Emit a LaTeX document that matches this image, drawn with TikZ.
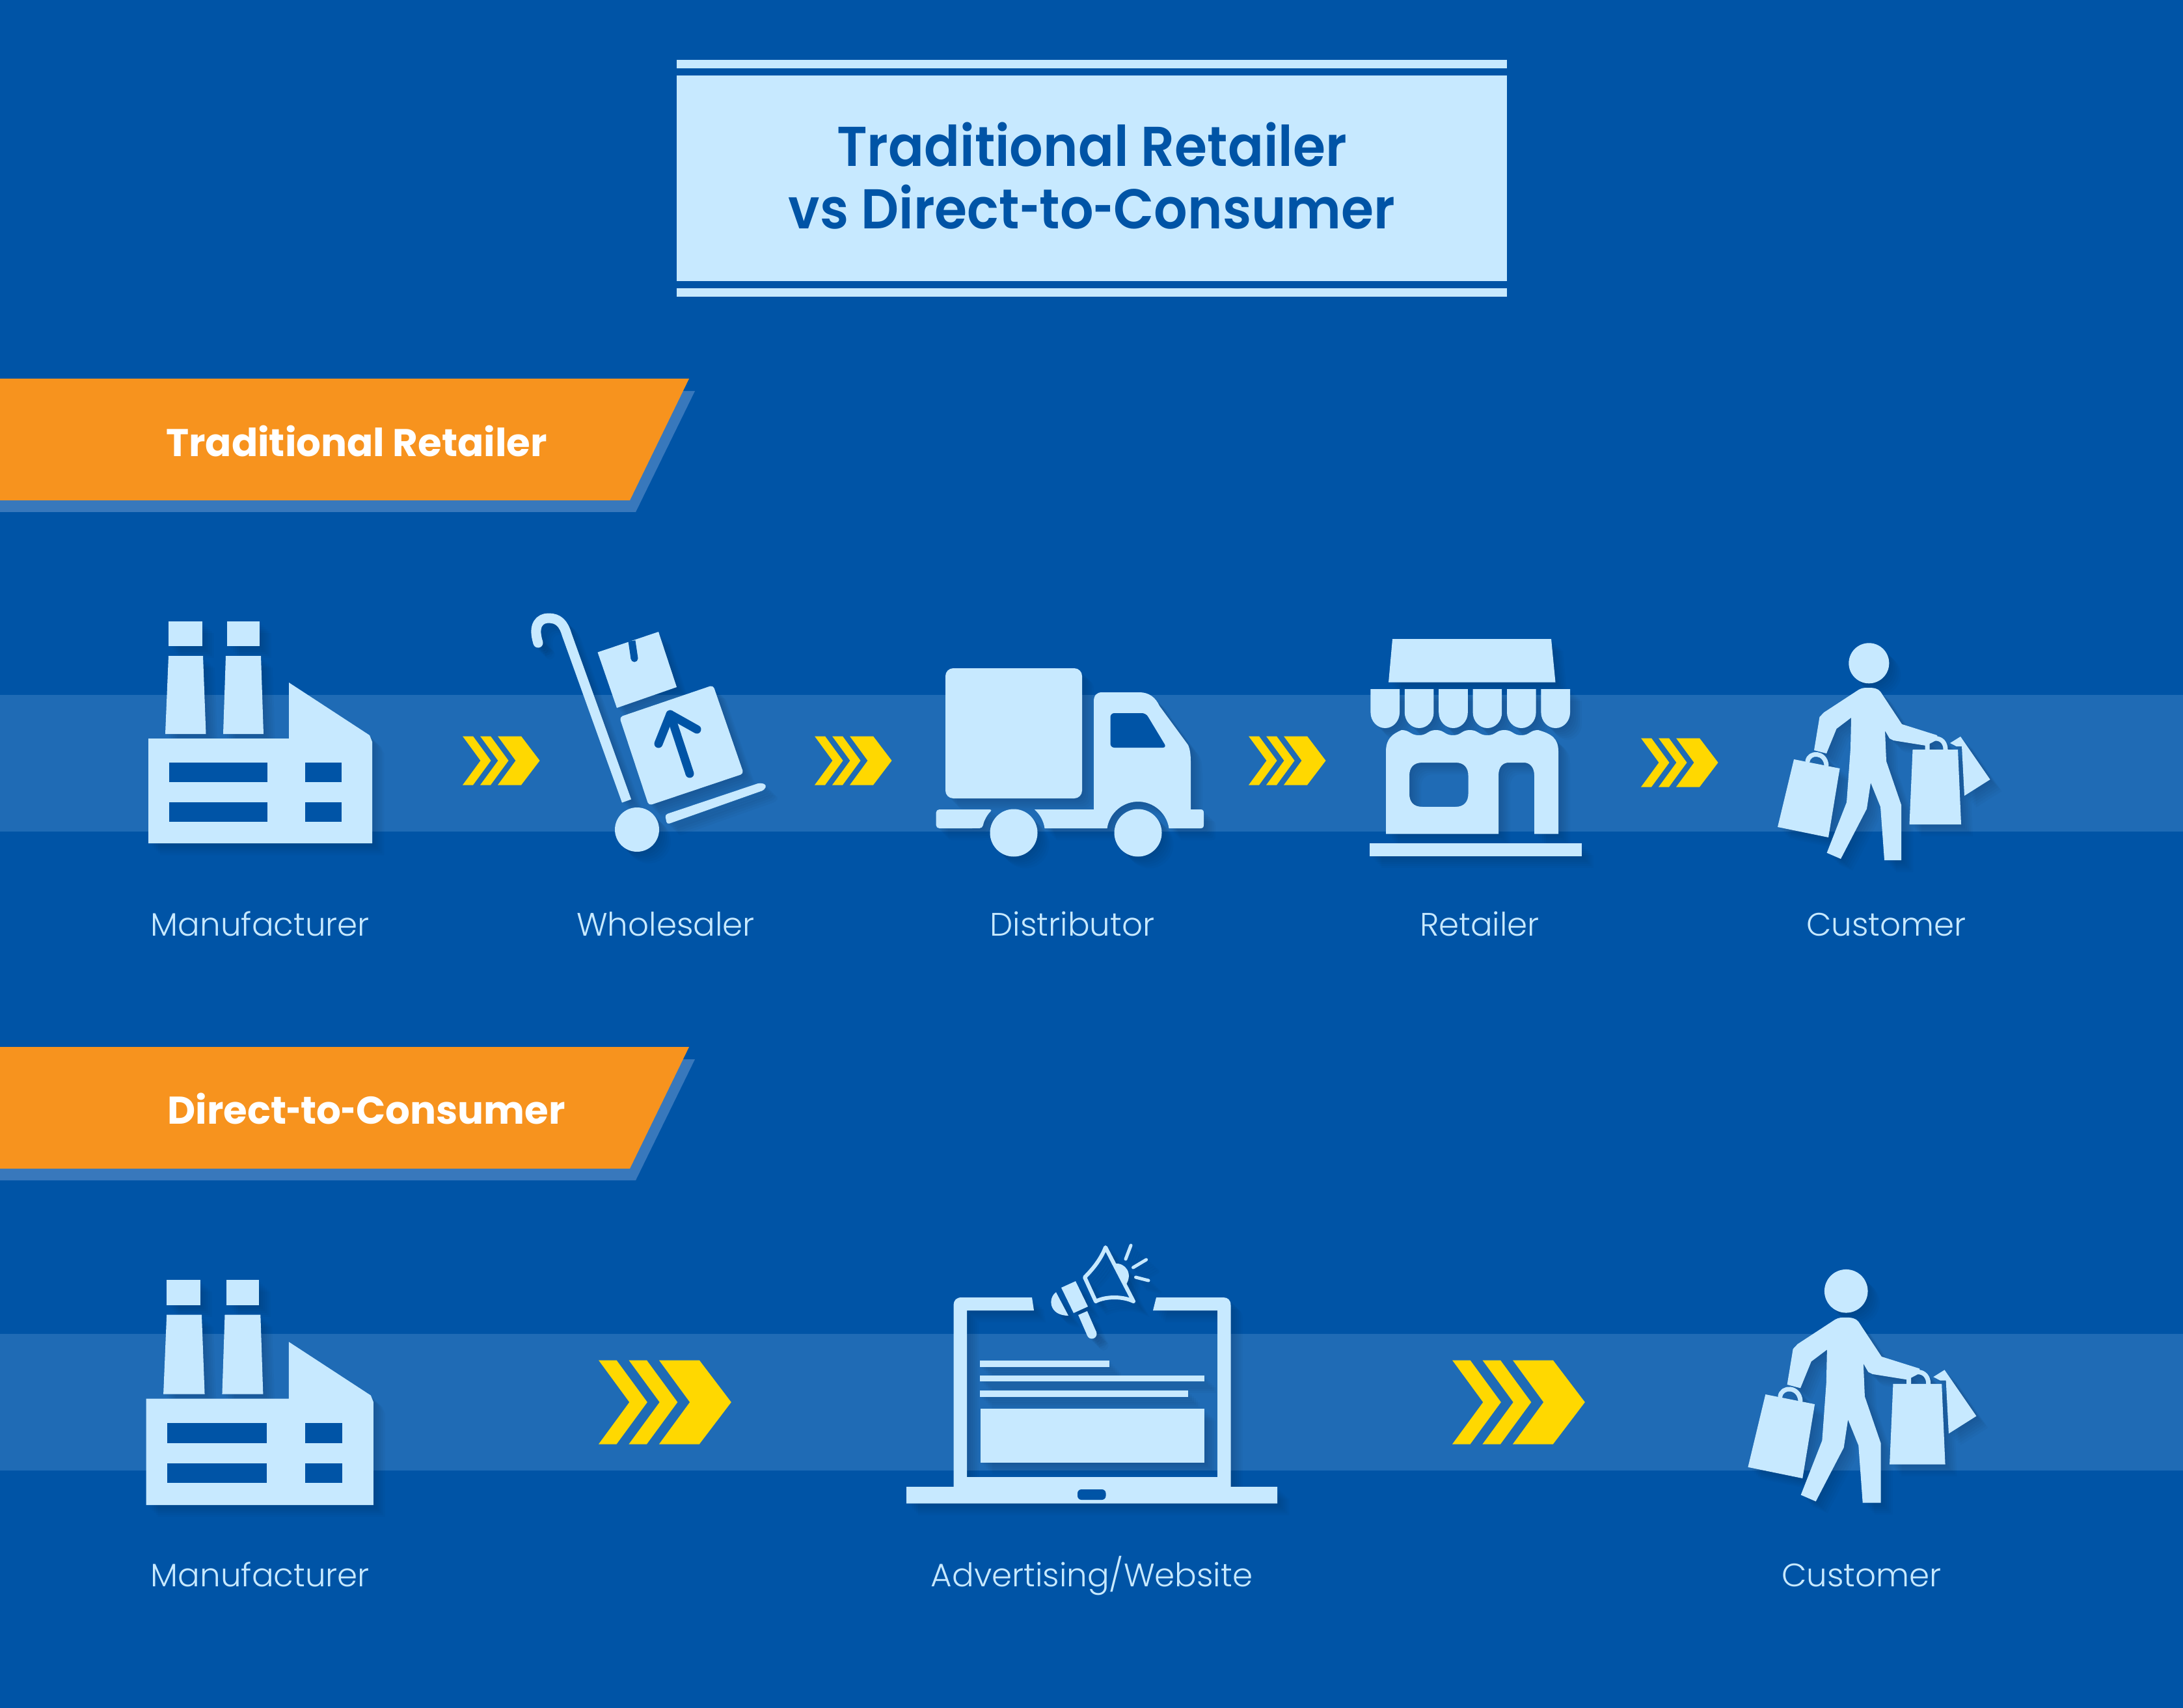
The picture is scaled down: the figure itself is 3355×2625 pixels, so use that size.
\documentclass[tikz,border=0pt]{standalone}
\usepackage{fontspec,graphicx}
\setmainfont{Poppins}
\newfontfamily\lightfont{Poppins Light}
\newfontfamily\titlefont{Poppins SemiBold}[FakeStretch=.94]
\newcommand{\hy}{\scalebox{.65}[1]{-}}
\definecolor{baseblue}{HTML}{0054A6}
\definecolor{bandblue}{HTML}{1F6BB5}
\definecolor{iconlight}{HTML}{C7E9FF}
\definecolor{flagorange}{HTML}{F7931E}
\definecolor{flagshade}{HTML}{3878BC}
\definecolor{chevyellow}{HTML}{FFD800}
\tikzset{
  iconbody/.style={fill=iconlight},
  iconline/.style={draw=iconlight,line cap=round,line join=round},
  iconcut/.style={fill=baseblue},
  iconcutline/.style={draw=baseblue,line cap=round,line join=round},
  pics/factoryicon/.style={code={
    \fill[iconbody] (259,955) rectangle (310.5,993);
    \fill[iconbody] (349,955) rectangle (399,993);
    \fill[iconbody] (259,1008) -- (312,1008) -- (316.5,1128) -- (254,1128) -- cycle;
    \fill[iconbody] (347,1008) -- (401,1008) -- (405,1128) -- (343,1128) -- cycle;
    \fill[iconbody] (228,1135) -- (444,1135) -- (444,1049) -- (568,1130) -- (572,1140) -- (572,1296) -- (228,1296) -- cycle;
    \fill[iconcut] (260,1172) rectangle (411,1202);
    \fill[iconcut] (260,1232.5) rectangle (411,1262.5);
    \fill[iconcut] (469,1172) rectangle (525,1202);
    \fill[iconcut] (469,1232.5) rectangle (525,1262.5);
  }},
  pics/trolleyicon/.style={code={
    \draw[iconline,line width=.15cm,line cap=butt] (827,988) .. controls (818,960) and (830,950) .. (843,950) .. controls (858,950) and (866,958) .. (871,975) -- (963,1231);
    \fill[iconbody] (827,988) circle (7.5);
    \fill[iconbody] (979,1275) circle (34);
    \fill[iconbody,rounded corners=.04cm] (1022,1252) -- (1168,1203) -- (1178,1206) -- (1175,1214) -- (1025,1267) -- cycle;
    \fill[iconbody,rounded corners=.05cm] (952,1102) -- (1096,1053) -- (1143,1189) -- (997,1238) -- cycle;
    \draw[iconcutline,line width=.13cm] (1060,1189) -- (1030,1098);
    \draw[iconcutline,line width=.13cm] (1012,1143) -- (1030,1098) -- (1071,1121);
    \fill[iconbody] (918.5,1002.5) -- (1012,971) -- (1040,1056) -- (948,1088) -- cycle;
    \draw[iconcutline,line width=.11cm,line cap=butt] (971,985) -- (975,1012);
    \fill[iconcut] (975,1012) circle (5.5);
  }},
  pics/truckicon/.style={code={
    \fill[iconbody,rounded corners=.12cm] (1453,1027) rectangle (1663,1227);
    \fill[iconbody] (1590,1244) -- (1681,1244) -- (1681,1078) .. controls (1681,1069) and (1685,1064) .. (1694,1064) -- (1751,1064) .. controls (1766,1064) and (1776,1072) .. (1782,1085) -- (1826,1145) .. controls (1829,1152) and (1830,1160) .. (1830,1172) -- (1830,1244) -- (1845,1244) .. controls (1849,1244) and (1850,1246) .. (1850,1250) -- (1850,1267) .. controls (1850,1271) and (1849,1273) .. (1845,1273) -- (1796.5,1273) arc[start angle=-8.4,end angle=-171.6,radius=48] -- (1605.5,1273) arc[start angle=-8.4,end angle=-48.6,radius=48] -- cycle;
    \fill[iconbody,rounded corners=.05cm] (1438.6,1244) -- (1526,1244) arc[start angle=-131.4,end angle=-171.6,radius=48] -- (1438.6,1273) -- cycle;
    \fill[iconcut,rounded corners=.06cm] (1706.5,1096) -- (1761,1096) -- (1793,1149) -- (1706.5,1149) -- cycle;
    \fill[iconbody] (1558,1280) circle (36.5);
    \fill[iconbody] (1749,1280) circle (36.5);
  }},
  pics/storeicon/.style={code={
    \fill[iconbody] (2140,982) -- (2384,982) -- (2390.5,1048.7) -- (2134,1048.7) -- cycle;
    \foreach \i in {0,...,5} {
      \fill[iconbody] ({2106.4+\i*52.4},1059) -- ++(0,36) arc[x radius=22.3,y radius=24,start angle=180,end angle=0] -- ++(0,-36) -- cycle;
    }
    \fill[iconbody,even odd rule] (2130,1155) .. controls (2130,1135) and (2140,1128) .. (2154,1122)
      .. controls (2167,1122) and (2167,1130) .. (2180.7,1130) .. controls (2194,1130) and (2194,1122) .. (2207,1122)
      .. controls (2220,1122) and (2220,1130) .. (2233,1130) .. controls (2246,1130) and (2246,1122) .. (2259,1122)
      .. controls (2272,1122) and (2272,1130) .. (2286,1130) .. controls (2299,1130) and (2299,1122) .. (2312,1122)
      .. controls (2325,1122) and (2325,1130) .. (2338,1130) .. controls (2351,1130) and (2351,1122) .. (2364,1122)
      .. controls (2385,1128) and (2395,1135) .. (2395,1155)
      -- (2395,1281.7) -- (2358,1281.7) -- (2358,1192) .. controls (2358,1178) and (2350,1172) .. (2342,1172) -- (2319,1172) .. controls (2310,1172) and (2303,1178) .. (2303,1192) -- (2303,1281.7) -- (2130,1281.7) -- cycle
      (2186,1172) .. controls (2172,1172) and (2166,1180) .. (2166,1192) -- (2166,1220) .. controls (2166,1232) and (2172,1240) .. (2186,1240) -- (2237,1240) .. controls (2250,1240) and (2256.5,1232) .. (2256.5,1220) -- (2256.5,1192) .. controls (2256.5,1180) and (2250,1172) .. (2237,1172) -- cycle;
    \fill[iconbody] (2105,1296) rectangle (2430.5,1315.7);
  }},
  pics/buyericon/.style={code={
    \fill[iconbody] (2872.3,1019.3) circle (31);
    \fill[iconbody] (2871,1057) .. controls (2880,1057) and (2886,1058) .. (2890,1063) -- (2923,1113) -- (2977,1130) -- (2979,1136) -- (2960,1146) -- (2910,1138) -- (2904,1135) -- (2897,1123) -- (2899,1170) -- (2922,1237) -- (2922,1322) -- (2896,1322) -- (2890,1240) -- (2875,1203) -- (2869,1243) -- (2829,1320) -- (2807.6,1310.7) -- (2838,1233) -- (2844,1150) -- (2845,1103) -- (2822.5,1120) -- (2807,1158) -- (2788,1153) -- (2796.4,1102) -- (2803,1095) -- (2856.5,1060) .. controls (2862,1057) and (2866,1057) .. (2871,1057) -- cycle;
    \fill[iconbody] (2757,1167) -- (2827.5,1181) -- (2810,1287) -- (2732,1271) -- cycle;
    \draw[iconline,line width=.07cm] (2778,1170) .. controls (2780,1155) and (2805,1155) .. (2807,1176);
    \fill[iconbody] (2939.5,1152) -- (3009,1152) -- (3014,1267) -- (2934.5,1267) -- cycle;
    \draw[iconline,line width=.07cm] (2962,1152) -- (2962,1142) (2975,1135) .. controls (2984,1135) and (2990,1142) .. (2990,1152);
    \fill[iconbody] (2997,1142) -- (3013,1132) -- (3058.5,1198) -- (3019,1223) -- (3015,1147) -- (3006.6,1147) -- cycle;
  }},
  pics/laptopicon/.style={code={
    \fill[iconbody] (1589,2014) -- (1586,1994) -- (1478,1994) .. controls (1470,1994) and (1465.6,1998) .. (1465.6,2006) -- (1465.6,2285) -- (1393,2285) -- (1393,2310.7) -- (1963,2310.7) -- (1963,2285) -- (1891.5,2285) -- (1891.5,2006) .. controls (1891.5,1998) and (1887,1994) .. (1880,1994) -- (1777,1994) -- (1772,2014) -- (1871,2014) -- (1871,2270) -- (1486,2270) -- (1486,2014) -- cycle;
    \fill[iconcut,rounded corners=.06cm] (1656,2289) rectangle (1699.5,2305);
    \fill[iconbody] (1506,2091) rectangle (1705,2100.7);
    \fill[iconbody] (1506,2114) rectangle (1850.5,2123);
    \fill[iconbody] (1506,2137) rectangle (1826,2146.7);
    \fill[iconbody] (1507,2165) rectangle (1850.5,2248);
    % megaphone
    \draw[iconline,line width=.06cm] (1699,1917) .. controls (1692,1935) and (1680,1950) .. (1667,1963) -- (1684,2000) .. controls (1700,1992) and (1725,1992) .. (1742,2000) -- cycle;
    \fill[iconbody] (1713,1942) .. controls (1730,1940) and (1742,1958) .. (1730,1975) -- cycle;
    \fill[iconbody] (1631,1979) -- (1653,1969) -- (1672,2008) -- (1650,2018) -- cycle;
    \fill[iconbody] (1623,1986) .. controls (1610,1995) and (1612,2022) .. (1642,2022) -- cycle;
    \draw[iconline,line width=.15cm,line cap=butt] (1664,2018) -- (1678,2050);
    \fill[iconbody] (1678,2050) circle (7.5);
    \draw[iconline,line width=.05cm] (1738,1914) -- (1730,1935);
    \draw[iconline,line width=.05cm] (1761.6,1936) -- (1741.5,1948);
    \draw[iconline,line width=.05cm] (1765,1968) -- (1745.5,1963);
  }},
  pics/chevrons/.style={code={
    \fill[chevyellow] (0,-37.5) -- (16,-37.5) -- (43.5,0) -- (16,37.5) -- (0,37.5) -- (27.5,0) -- cycle;
    \fill[chevyellow] (27,-37.5) -- (43,-37.5) -- (70.5,0) -- (43,37.5) -- (27,37.5) -- (54.5,0) -- cycle;
    \fill[chevyellow] (54,-37.5) -- (90,-37.5) -- (118.5,0) -- (90,37.5) -- (54,37.5) -- (81.5,0) -- cycle;
  }}
}
\newcommand{\softicon}[2][]{%
  \foreach \d in {3,6,9,12,15,18} {
    \pic[shift={(\d,\d)},#1,iconbody/.style={fill=black,fill opacity=.024},iconline/.style={draw=black,draw opacity=.024,line cap=round},iconcut/.style={fill=none},iconcutline/.style={draw=none}] at (0,0) {#2};
  }
  \pic[#1] at (0,0) {#2};
}
\begin{document}
\begin{tikzpicture}[x=.01cm,y=-.01cm,
  titletext/.style={text=baseblue,align=center,font=\titlefont\fontsize{24.5}{27.3}\selectfont,inner sep=0pt},
  flagtext/.style={text=white,font=\bfseries\fontsize{16.9}{20}\selectfont,inner sep=0pt},
  steplabel/.style={text=iconlight,font=\lightfont\fontsize{14.2}{16}\selectfont,inner sep=0pt,anchor=base}
]
  \useasboundingbox (0,0) rectangle (3355,2625);
  \fill[baseblue] (0,0) rectangle (3355,2625);
  \fill[bandblue] (0,1068) rectangle (3355,1278);
  \fill[bandblue] (0,2050) rectangle (3355,2260);
  % title
  \fill[iconlight] (1040,92) rectangle (2316,105);
  \fill[iconlight] (1040,116) rectangle (2316,432);
  \fill[iconlight] (1040,443) rectangle (2316,456);
  \node[titletext] (title) at (1678,270) {Traditional Retailer\\vs Direct\hy to\hy Consumer};
  % banners
  \fill[flagshade] (0,601) -- (1068,601) -- (977,787) -- (0,787) -- cycle;
  \fill[flagorange] (0,582) -- (1059,582) -- (968,769) -- (0,769) -- cycle;
  \node[flagtext] (flagtrad) at (548,678) {Traditional Retailer};
  \fill[flagshade] (0,1628) -- (1068,1628) -- (977,1814) -- (0,1814) -- cycle;
  \fill[flagorange] (0,1609) -- (1059,1609) -- (968,1796) -- (0,1796) -- cycle;
  \node[flagtext] (flagdtc) at (563,1704) {Direct\hy to\hy Consumer};
  % first row
  \softicon{factoryicon}
  \softicon{trolleyicon}
  \softicon{truckicon}
  \softicon{storeicon}
  \softicon{buyericon}
  \pic at (711,1169) {chevrons};
  \pic at (1252,1169) {chevrons};
  \pic at (1919,1169) {chevrons};
  \pic at (2522,1172) {chevrons};
  \node[steplabel] (lblmaker) at (400,1438) {Manufacturer};
  \node[steplabel] (lblwhole) at (1023,1438) {Wholesaler};
  \node[steplabel] (lbldist) at (1648,1438) {Distributor};
  \node[steplabel] (lblretail) at (2274,1438) {Retailer};
  \node[steplabel] (lblbuyer) at (2899,1438) {Customer};
  % second row
  \softicon[shift={(-6.7,997.6)},scale=1.015]{factoryicon}
  \softicon{laptopicon}
  \softicon[shift={(-250.5,888.5)},scale=1.075]{buyericon}
  \pic[scale=1.72] at (920,2155) {chevrons};
  \pic[scale=1.72] at (2232,2155) {chevrons};
  \node[steplabel] (lblmakertwo) at (400,2438) {Manufacturer};
  \node[steplabel] (lbladvert) at (1678,2438) {Advertising/Website};
  \node[steplabel] (lblbuyertwo) at (2861,2438) {Customer};
\end{tikzpicture}
\end{document}
